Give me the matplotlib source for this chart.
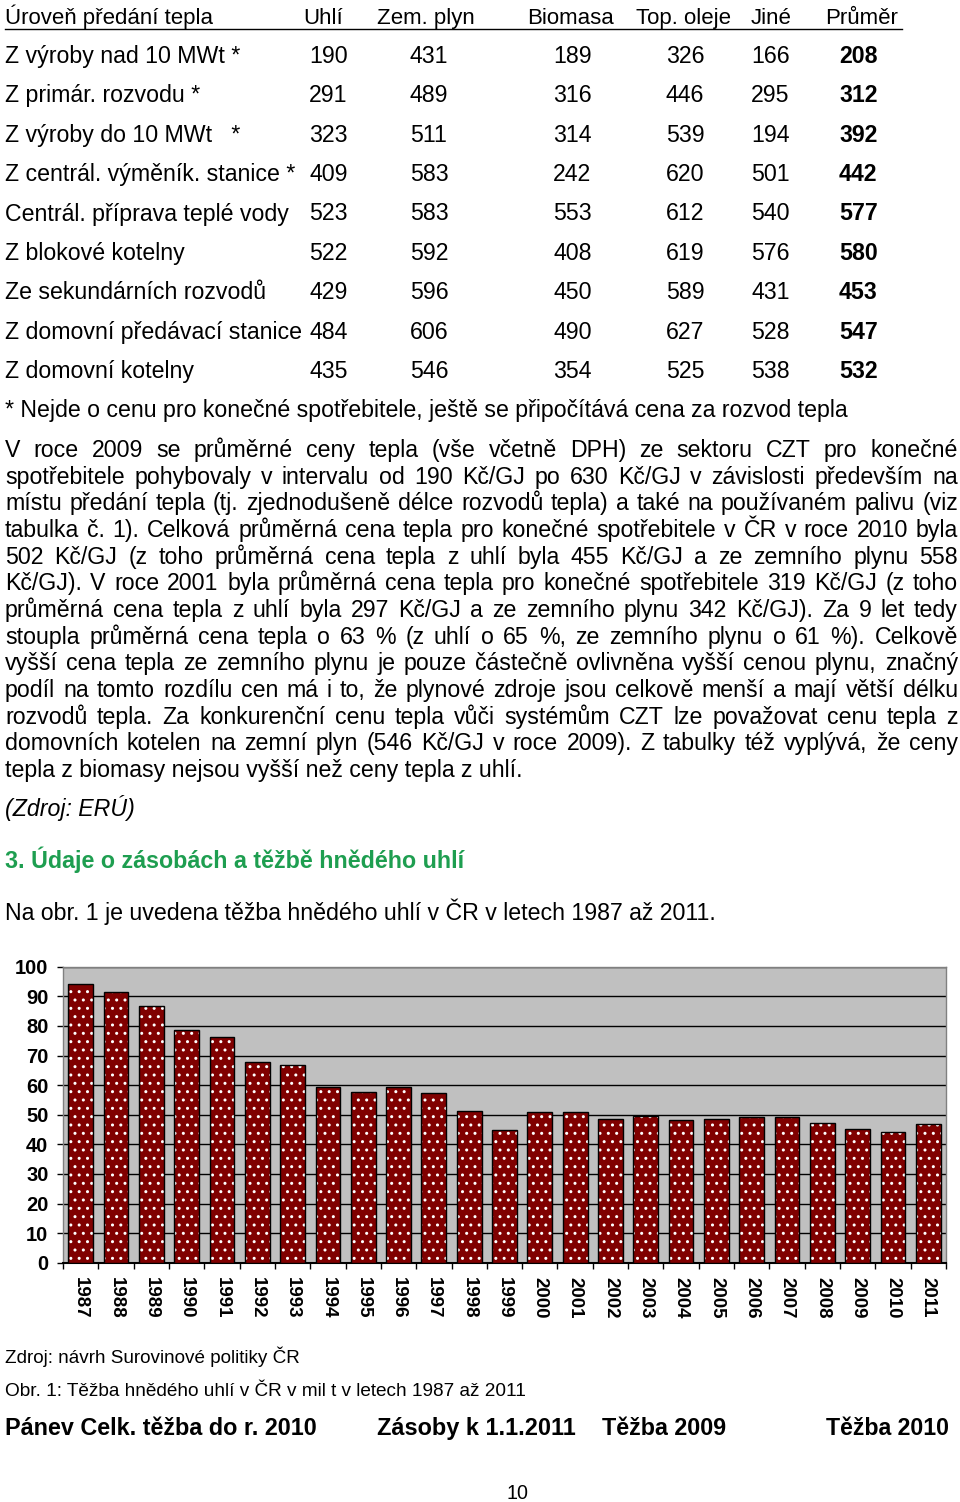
import matplotlib
matplotlib.use('Agg')
import matplotlib.pyplot as plt
import numpy as np
import warnings
warnings.filterwarnings('ignore')

# ---------------- data ----------------
header = ["Úroveň předání tepla", "Uhlí", "Zem. plyn", "Biomasa", "Top. oleje", "Jiné", "Průměr"]
row_labels = ["Z výroby nad 10 MWt *", "Z primár. rozvodu *", "Z výroby do 10 MWt   *",
              "Z centrál. výměník. stanice *", "Centrál. příprava teplé vody", "Z blokové kotelny",
              "Ze sekundárních rozvodů", "Z domovní předávací stanice", "Z domovní kotelny"]
uhli = [190, 291, 323, 409, 523, 522, 429, 484, 435]
zem_plyn = [431, 489, 511, 583, 583, 592, 596, 606, 546]
biomasa = [189, 316, 314, 242, 553, 408, 450, 490, 354]
top_oleje = [326, 446, 539, 620, 612, 619, 589, 627, 525]
jine = [166, 295, 194, 501, 540, 576, 431, 528, 538]
prumer = [208, 312, 392, 442, 577, 580, 453, 547, 532]

years = [str(y) for y in range(1987, 2012)]
tezba = [94.1, 91.6, 86.8, 78.6, 76.1, 67.9, 66.7, 59.5, 57.8, 59.5, 57.3, 51.4, 44.8,
         50.9, 50.9, 48.4, 49.7, 48.1, 48.4, 49.2, 49.2, 47.3, 45.3, 44.0, 47.0]
yticks = list(range(0, 101, 10))

footnote = "* Nejde o cenu pro konečné spotřebitele, ještě se připočítává cena za rozvod tepla"
paragraph = [
    "V roce 2009 se průměrné ceny tepla (vše včetně DPH) ze sektoru CZT pro konečné",
    "spotřebitele pohybovaly v intervalu od 190 Kč/GJ po 630 Kč/GJ v závislosti především na",
    "místu předání tepla (tj. zjednodušeně délce rozvodů tepla) a také na používaném palivu (viz",
    "tabulka č. 1). Celková průměrná cena tepla pro konečné spotřebitele v ČR v roce 2010 byla",
    "502 Kč/GJ (z toho průměrná cena tepla z uhlí byla 455 Kč/GJ a ze zemního plynu 558",
    "Kč/GJ). V roce 2001 byla průměrná cena tepla pro konečné spotřebitele 319 Kč/GJ (z toho",
    "průměrná cena tepla z uhlí byla 297 Kč/GJ a ze zemního plynu 342 Kč/GJ). Za 9 let tedy",
    "stoupla průměrná cena tepla o 63 % (z uhlí o 65 %, ze zemního plynu o 61 %). Celkově",
    "vyšší cena tepla ze zemního plynu je pouze částečně ovlivněna vyšší cenou plynu, značný",
    "podíl na tomto rozdílu cen má i to, že plynové zdroje jsou celkově menší a mají větší délku",
    "rozvodů tepla. Za konkurenční cenu tepla vůči systémům CZT lze považovat cenu tepla z",
    "domovních kotelen na zemní plyn (546 Kč/GJ v roce 2009). Z tabulky též vyplývá, že ceny",
    "tepla z biomasy nejsou vyšší než ceny tepla z uhlí.",
]
source1 = "(Zdroj: ERÚ)"
heading = "3. Údaje o zásobách a těžbě hnědého uhlí"
intro = "Na obr. 1 je uvedena těžba hnědého uhlí v ČR v letech 1987 až 2011."
source2 = "Zdroj: návrh Surovinové politiky ČR"
caption = "Obr. 1: Těžba hnědého uhlí v ČR v mil t v letech 1987 až 2011"
next_header = ["Pánev Celk. těžba do r. 2010", "Zásoby k 1.1.2011", "Těžba 2009", "Těžba 2010"]
page_no = "10"

# ---------------- page ----------------
W, H = 960, 1502
FAM = ['Liberation Sans', 'DejaVu Sans']
NAR = ['Liberation Sans Narrow', 'Liberation Sans', 'DejaVu Sans']
FS = 16.7

fig = plt.figure(figsize=(W / 100, H / 100), dpi=100)
fig.patch.set_facecolor('white')
ax = fig.add_axes([0, 0, 1, 1])
ax.set_xlim(0, W)
ax.set_ylim(H, 0)
ax.axis('off')
renderer = fig.canvas.get_renderer()


def put(x, y, s, size=FS, family=FAM, **kw):
    return ax.text(x, y, s, fontsize=size, ha='left', va='baseline', family=family, **kw)


def width(t):
    return t.get_window_extent(renderer).width


def fit(x0, x1, y, s, size=FS, family=FAM, **kw):
    t = put(x0, y, s, size, family, **kw)
    w = width(t)
    t.set_fontsize(size * (x1 - x0) / w)
    return t


def justify(line, y, x0=5, x1=958, size=FS):
    words = line.split(' ')
    ts = [put(0, y, w, size) for w in words]
    ws = [width(t) for t in ts]
    gap = (x1 - x0 - sum(ws)) / (len(words) - 1)
    x = x0
    for t, w in zip(ts, ws):
        t.set_x(x)
        x += w + gap


# table header (underlined)
hdr_x = [5, 303, 377, 527, 636, 751, 825]
for s, a in zip(header, hdr_x):
    put(a, 24, s, size=16, family=NAR)
ax.plot([5, 902], [28.5, 28.5], color='black', lw=1.0)

# table rows
row_y = np.linspace(55, 370, len(row_labels)) + 8
col_x = [309, 410, 553, 666, 751]
for i, lab in enumerate(row_labels):
    y = row_y[i]
    put(5, y, lab)
    for cx, arr in zip(col_x, [uhli, zem_plyn, biomasa, top_oleje, jine]):
        put(cx, y, str(arr[i]))
    put(839, y, str(prumer[i]), fontweight='bold')

put(5, 417, footnote)

# paragraph (justified)
par_y = np.linspace(449, 769, len(paragraph)) + 8
for i, line in enumerate(paragraph):
    if i < len(paragraph) - 1:
        justify(line, par_y[i])
    else:
        put(5, par_y[i], line)

put(5, 816, source1, style='italic')
fit(5, 461, 868, heading, fontweight='bold', color='#1E9E50')
put(5, 920, intro)

fit(5, 300, 1363, source2, size=13, family=NAR)
fit(5, 527, 1396, caption, size=13, family=NAR)
nh_x = [(5, 315), (377, 575), (602, 725), (826, 949)]
for s, (a, b) in zip(next_header, nh_x):
    fit(a, b, 1435, s, size=FS, family=NAR, fontweight='bold')
fit(507, 529, 1499, page_no, size=14, family=NAR)

# ---------------- bar chart ----------------
left, right, top, bottom = 63, 946, 966.7, 1262.7
cax = fig.add_axes([left / W, 1 - bottom / H, (right - left) / W, (bottom - top) / H])
cax.set_facecolor('#C0C0C0')
xpos = np.arange(len(years))
plt.rcParams['hatch.linewidth'] = 1.0
cax.bar(xpos, tezba, width=0.7, color='#800000', hatch='..', edgecolor='white',
        linewidth=0, zorder=3)
cax.bar(xpos, tezba, width=0.7, fill=False, edgecolor='black', linewidth=1.0, zorder=4)
cax.set_xlim(-0.5, len(years) - 0.5)
cax.set_ylim(0, 100)
cax.set_yticks(yticks)
cax.set_yticklabels([str(v) for v in yticks], fontsize=14.5, fontweight='bold', family=FAM)
cax.yaxis.grid(True, color='black', lw=1.0)
cax.set_axisbelow(True)
cax.set_xticks(xpos)
cax.set_xticklabels(years, rotation=-90, fontsize=13.5, fontweight='bold', family=FAM)
cax.set_xticks(np.arange(-0.5, len(years), 1), minor=True)
cax.tick_params(axis='x', which='major', length=0, pad=10)
cax.tick_params(axis='x', which='minor', length=4, width=1, direction='out', color='black')
cax.tick_params(axis='y', length=4.5, width=1, direction='out', color='black', pad=6)
for sp in ['top', 'right', 'left']:
    cax.spines[sp].set_color('#808080')
    cax.spines[sp].set_linewidth(1.0)
cax.spines['bottom'].set_color('black')
cax.spines['bottom'].set_linewidth(1.5)

fig.savefig('out.png', dpi=100, facecolor='white')
